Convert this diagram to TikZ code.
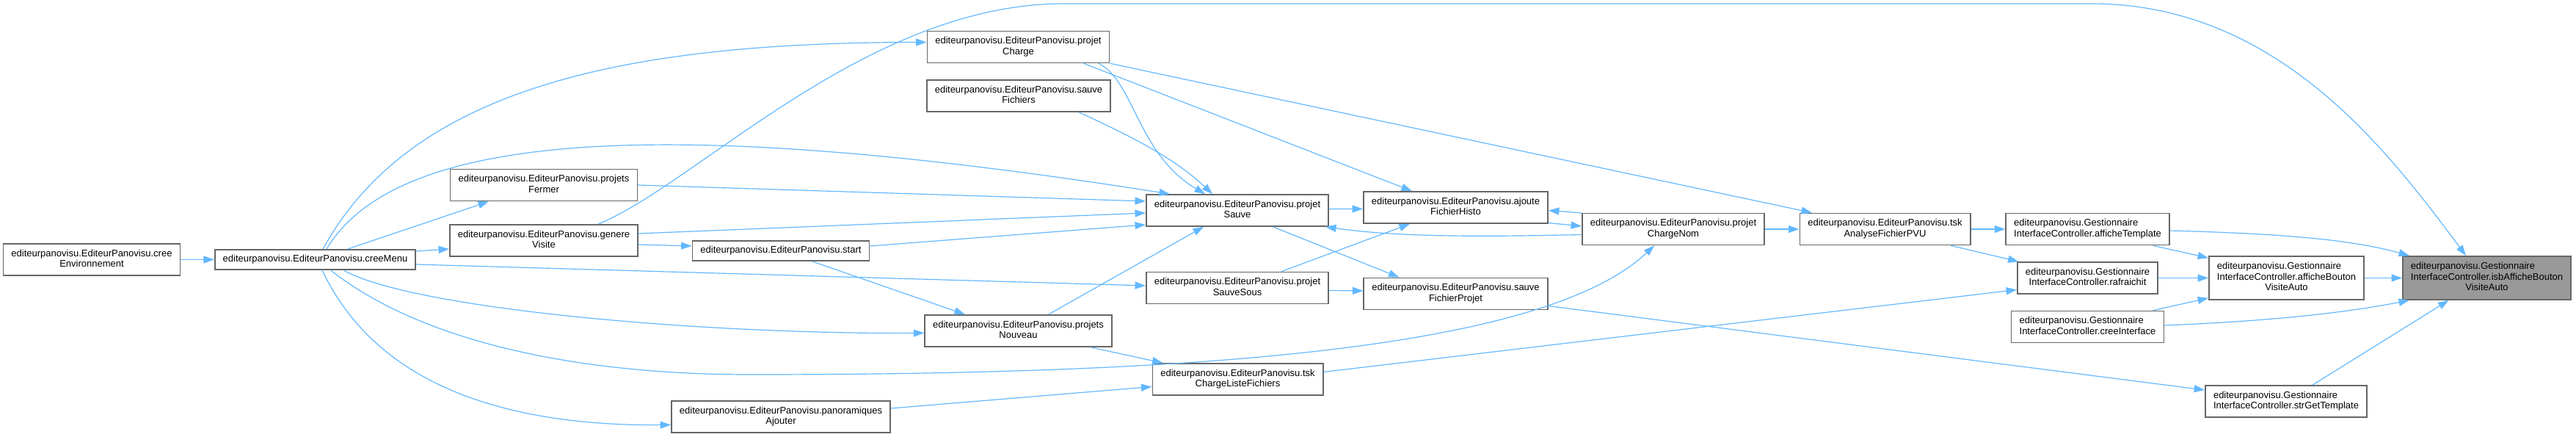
\documentclass[tikz,border=0pt]{standalone}
\usepackage{fontspec}
\setmainfont{Liberation Sans}
\usetikzlibrary{arrows.meta, positioning}
\definecolor{clrEdge}{HTML}{63B8FF}
\definecolor{clrBorder}{HTML}{666666}
\definecolor{clrTarget}{HTML}{999999}
\newcommand{\fnlabel}[2]{\begin{tabular}{@{}l@{}}#1\\\multicolumn{1}{@{}c@{}}{#2}\end{tabular}}
\newcommand{\fnlabelthree}[3]{\begin{tabular}{@{}l@{}}#1\\#2\\\multicolumn{1}{@{}c@{}}{#3}\end{tabular}}

\begin{document}
\begin{tikzpicture}[
    fn/.style={rectangle, draw=clrBorder, fill=white, line width=0.95pt, inner xsep=0.22cm, inner ysep=0pt, minimum height=0.86cm, font=\fontsize{7.4}{8.2}\selectfont},
    fnone/.style={fn, minimum height=0.54cm},
    fnthree/.style={fn, minimum height=1.18cm},
    fntarget/.style={fnthree, fill=clrTarget},
    call/.style={-{Triangle[length=0.29cm, width=0.2cm]}, line width=0.68pt, clrEdge},
]
\useasboundingbox (0,0) rectangle (70.2,-11.9);

% Callers on the left
\node[fn] (creeEnv) at (2.50,-7.07) {\fnlabel{editeurpanovisu.EditeurPanovisu.cree}{Environnement}};
\node[fnone] (creeMenu) at (8.59,-7.07) {editeurpanovisu.EditeurPanovisu.creeMenu};
\node[fn] (projetsFermer) at (14.82,-5.04) {\fnlabel{editeurpanovisu.EditeurPanovisu.projets}{Fermer}};
\node[fn] (genereVisite) at (14.82,-6.55) {\fnlabel{editeurpanovisu.EditeurPanovisu.genere}{Visite}};
\node[fnone] (start) at (21.28,-6.83) {editeurpanovisu.EditeurPanovisu.start};
\node[fn] (panoAjouter) at (21.28,-11.35) {\fnlabel{editeurpanovisu.EditeurPanovisu.panoramiques}{Ajouter}};

% Project handling
\node[fn] (projetCharge) at (27.75,-1.28) {\fnlabel{editeurpanovisu.EditeurPanovisu.projet}{Charge}};
\node[fn] (sauveFichiers) at (27.76,-2.61) {\fnlabel{editeurpanovisu.EditeurPanovisu.sauve}{Fichiers}};
\node[fn] (projetsNouveau) at (27.75,-9.01) {\fnlabel{editeurpanovisu.EditeurPanovisu.projets}{Nouveau}};
\node[fn] (projetSauve) at (33.72,-5.73) {\fnlabel{editeurpanovisu.EditeurPanovisu.projet}{Sauve}};
\node[fn] (projetSauveSous) at (33.72,-7.84) {\fnlabel{editeurpanovisu.EditeurPanovisu.projet}{SauveSous}};
\node[fn] (tskChargeListe) at (33.73,-10.33) {\fnlabel{editeurpanovisu.EditeurPanovisu.tsk}{ChargeListeFichiers}};
\node[fn] (ajouteHisto) at (39.67,-5.65) {\fnlabel{editeurpanovisu.EditeurPanovisu.ajoute}{FichierHisto}};
\node[fn] (sauveProjet) at (39.67,-8.00) {\fnlabel{editeurpanovisu.EditeurPanovisu.sauve}{FichierProjet}};
\node[fn] (chargeNom) at (45.60,-6.24) {\fnlabel{editeurpanovisu.EditeurPanovisu.projet}{ChargeNom}};
\node[fn] (tskAnalyse) at (51.37,-6.24) {\fnlabel{editeurpanovisu.EditeurPanovisu.tsk}{AnalyseFichierPVU}};

% Interface controller
\node[fn] (afficheTemplate) at (56.89,-6.24) {\fnlabel{editeurpanovisu.Gestionnaire}{InterfaceController.afficheTemplate}};
\node[fn] (rafraichit) at (56.89,-7.57) {\fnlabel{editeurpanovisu.Gestionnaire}{InterfaceController.rafraichit}};
\node[fn] (creeInterface) at (56.89,-8.90) {\fnlabel{editeurpanovisu.Gestionnaire}{InterfaceController.creeInterface}};
\node[fnthree] (afficheBouton) at (62.31,-7.57) {\fnlabelthree{editeurpanovisu.Gestionnaire}{InterfaceController.afficheBouton}{VisiteAuto}};
\node[fn] (strGetTemplate) at (62.30,-10.93) {\fnlabel{editeurpanovisu.Gestionnaire}{InterfaceController.strGetTemplate}};
\node[fntarget] (isbAffiche) at (67.77,-7.57) {\fnlabelthree{editeurpanovisu.Gestionnaire}{InterfaceController.isbAfficheBouton}{VisiteAuto}};

% Calls from creeEnvironnement / creeMenu
\draw[call] (creeEnv.east) -- (creeMenu.west);
\draw[call] ([xshift=0.88cm]creeMenu.north) -- ([xshift=-1.5cm]projetsFermer.south);
\draw[call] ([yshift=0.23cm]creeMenu.east) -- ([yshift=-0.23cm]genereVisite.west);
\draw[call] ([xshift=0.21cm]creeMenu.north) .. controls (11.2,-2.4) and (17.0,-1.16) .. ([yshift=0.13cm]projetCharge.west);
\draw[call] ([xshift=0.31cm]creeMenu.north) .. controls (10.8,-3.6) and (18.0,-3.1) .. ([xshift=-1.84cm]projetSauve.north);
\draw[call] ([yshift=-0.13cm]creeMenu.east) -- ([yshift=0.06cm]projetSauveSous.west);
\draw[call] ([xshift=0.77cm]creeMenu.south) .. controls (11.2,-8.4) and (19.0,-9.1) .. ([yshift=-0.06cm]projetsNouveau.west);
\draw[call] ([xshift=0.42cm]creeMenu.south) .. controls (11.6,-9.4) and (16.0,-10.2) .. (20.44,-10.2)
    .. controls (32.0,-10.2) and (42.0,-9.6) .. ([xshift=-0.52cm]chargeNom.south);
\draw[call] ([xshift=0.19cm]creeMenu.south) .. controls (10.4,-10.8) and (14.4,-11.6) .. ([yshift=-0.22cm]panoAjouter.west);

% genereVisite, projetsFermer, start
\draw[call] ([xshift=1.48cm]genereVisite.north) .. controls (19.0,-5.0) and (23.6,-0.1) .. (29.0,-0.1) -- (56.98,-0.1)
    .. controls (62.0,-0.1) and (65.0,-4.0) .. ([xshift=-0.57cm]isbAffiche.north);
\draw[call] (projetsFermer.east) -- ([yshift=0.25cm]projetSauve.west);
\draw[call] ([yshift=0.19cm]genereVisite.east) -- ([yshift=-0.07cm]projetSauve.west);
\draw[call] ([yshift=-0.11cm]genereVisite.east) -- ([yshift=0.13cm]start.west);
\draw[call] ([yshift=0.13cm]start.east) -- ([yshift=-0.39cm]projetSauve.west);
\draw[call] ([xshift=0.85cm]start.south) -- ([xshift=-1.45cm]projetsNouveau.north);

% Project column
\draw[call] ([xshift=0.82cm]projetsNouveau.north) -- ([xshift=-0.92cm]projetSauve.south);
\draw[call] ([xshift=2.19cm]projetCharge.south) .. controls (30.9,-2.2) and (31.0,-4.2) .. ([xshift=-0.88cm]projetSauve.north);
\draw[call] ([xshift=1.64cm]sauveFichiers.south) .. controls (30.8,-3.7) and (32.0,-4.3) .. ([xshift=-0.68cm]projetSauve.north);
\draw[call] ([xshift=1.78cm]projetCharge.south) -- ([xshift=-1.19cm]ajouteHisto.north);
\draw[call] (projetCharge.south east) -- ([xshift=-1.99cm]tskAnalyse.north);
\draw[call] ([xshift=1.97cm]projetsNouveau.south) -- ([xshift=-2.04cm]tskChargeListe.north);
\draw[call] ([yshift=0.23cm]panoAjouter.east) -- ([yshift=-0.2cm]tskChargeListe.west);

% Sauve / historique / chargement
\draw[call] ([yshift=0.04cm]projetSauve.east) -- ([yshift=-0.04cm]ajouteHisto.west);
\draw[call] ([xshift=1.2cm]projetSauveSous.north) -- ([xshift=-1.25cm]ajouteHisto.south);
\draw[call] ([xshift=0.97cm]projetSauve.south) -- ([xshift=-1.54cm]sauveProjet.north);
\draw[call] ([yshift=-0.07cm]projetSauveSous.east) -- ([yshift=0.08cm]sauveProjet.west);
\draw[call] ([yshift=-0.42cm]ajouteHisto.east) -- ([yshift=0.08cm]chargeNom.west);
\draw[call] ([yshift=0.44cm]chargeNom.west) -- ([yshift=-0.08cm]ajouteHisto.east);
\draw[call] ([yshift=-0.15cm]chargeNom.west) .. controls (40.0,-6.46) and (38.0,-6.44) .. ([xshift=-0.1cm]projetSauve.south east);
\draw[call] (chargeNom.east) -- (tskAnalyse.west);
\draw[call] ([yshift=-0.33cm]sauveProjet.east) -- ([yshift=0.31cm]strGetTemplate.west);
\draw[call] ([yshift=0.2cm]tskChargeListe.east) -- ([yshift=-0.32cm]rafraichit.west);

% Interface controller calls
\draw[call] (tskAnalyse.east) -- (afficheTemplate.west);
\draw[call] ([xshift=1.79cm]tskAnalyse.south) -- ([xshift=0.05cm]rafraichit.north west);
\draw[call] ([yshift=-0.04cm]afficheTemplate.east) .. controls (62.0,-6.36) and (64.0,-6.5) .. ([xshift=0.2cm]isbAffiche.north west);
\draw[call] ([xshift=1.78cm]afficheTemplate.south) -- ([yshift=-0.06cm]afficheBouton.north west);
\draw[call] (rafraichit.east) -- (afficheBouton.west);
\draw[call] ([xshift=1.78cm]creeInterface.north) -- ([yshift=0.06cm]afficheBouton.south west);
\draw[call] ([yshift=0.04cm]creeInterface.east) .. controls (62.0,-8.74) and (64.0,-8.5) .. ([xshift=0.2cm]isbAffiche.south west);
\draw[call] (afficheBouton.east) -- (isbAffiche.west);
\draw[call] ([xshift=0.72cm]strGetTemplate.north) -- ([xshift=-1.04cm]isbAffiche.south);

\end{tikzpicture}
\end{document}
